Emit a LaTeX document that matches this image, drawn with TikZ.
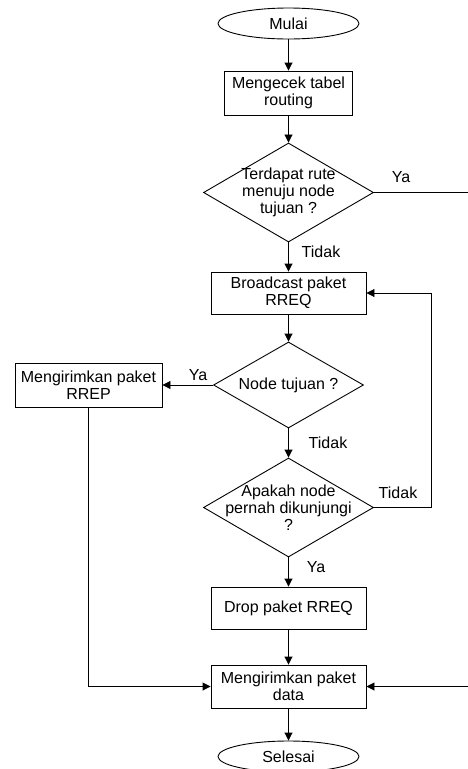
\documentclass[tikz,border=0pt]{standalone}
\usepackage{fontspec}
\setmainfont{Liberation Sans}
\usetikzlibrary{shapes.geometric,arrows.meta}
\begin{document}
\begin{tikzpicture}[x=1pt,y=-1pt,
  font=\fontsize{16}{16.7}\selectfont,
  flowline/.style={draw=black, line width=0.9pt},
  arr/.style={flowline,-{Triangle[length=8pt,width=8pt]}},
  procbox/.style={draw, line width=0.9pt, rectangle, align=center, inner sep=0pt},
  termin/.style={draw, line width=0.9pt, ellipse, inner sep=0pt, minimum width=141pt, minimum height=31pt},
  decision/.style={draw, line width=0.9pt, diamond, inner sep=0pt},
  lbl/.style={inner sep=0pt}]
\useasboundingbox (0,0) rectangle (468,769);
\node[termin] (start) at (288.5,23.5) {Mulai};
\node[procbox, minimum width=128pt, minimum height=44pt] (cek) at (288.5,93) {Mengecek tabel\\routing};
\node[decision, minimum width=170pt, minimum height=99pt] (d1) at (288.5,192.5) {};
\node[align=center] (d1t) at (d1) {Terdapat rute\\menuju node\\tujuan ?};
\node[procbox, minimum width=155pt, minimum height=42pt] (bc) at (288.5,293) {Broadcast paket\\RREQ};
\node[decision, minimum width=150pt, minimum height=86pt] (d2) at (288.5,385) {};
\node (d2t) at (d2) {Node tujuan ?};
\node[procbox, minimum width=147pt, minimum height=44pt] (rrep) at (88.5,385) {Mengirimkan paket\\RREP};
\node[decision, minimum width=170pt, minimum height=99pt] (d3) at (288.5,507.5) {};
\node[align=center] (d3t) at (d3) {Apakah node\\pernah dikunjungi\\?};
\node[procbox, minimum width=155pt, minimum height=42pt] (drop) at (288.5,608) {Drop paket RREQ};
\node[procbox, minimum width=155pt, minimum height=43pt] (kirim) at (288.5,686.5) {Mengirimkan paket\\data};
\node[termin] (end) at (288.5,756.5) {Selesai};
\coordinate (outR) at (468,192.5);
\coordinate (inR) at (468,686.5);
\coordinate (loopx) at (431,400);
\node[lbl] (ya1) at (401,177) {Ya};
\node[lbl] (td1) at (321,252) {Tidak};
\node[lbl] (ya2) at (198,375) {Ya};
\node[lbl] (td2) at (328,443) {Tidak};
\node[lbl] (td3) at (398,493) {Tidak};
\node[lbl] (ya3) at (316,567) {Ya};
\draw[arr] (start) -- (cek);
\draw[arr] (cek) -- (d1);
\draw[flowline] (d1.east) -- (outR);
\draw[arr] (d1) -- (bc);
\draw[arr] (bc) -- (d2);
\draw[arr] (d2.west) -- (rrep.east);
\draw[arr] (d2) -- (d3);
\draw[arr] (d3.east) -- (d3.east -| loopx) -- (bc.east -| loopx) -- (bc.east);
\draw[arr] (d3) -- (drop);
\draw[arr] (drop) -- (kirim);
\draw[arr] (rrep.south) |- (kirim.west);
\draw[arr] (inR) -- (kirim.east);
\draw[arr] (kirim) -- (end);
\end{tikzpicture}
\end{document}
